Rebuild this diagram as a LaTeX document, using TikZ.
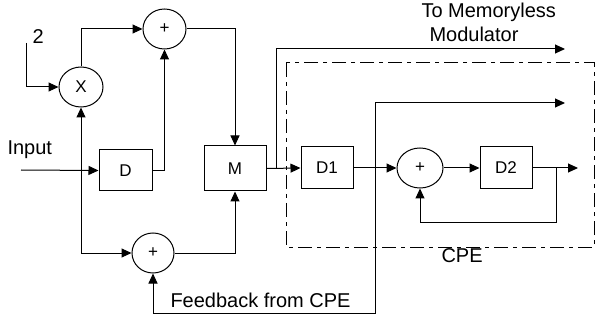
\documentclass[tikz,border=0pt]{standalone}
\usepackage{fontspec}
\setmainfont{Liberation Sans}
\usetikzlibrary{positioning,arrows.meta,shapes.geometric}
\tikzset{
    blockbox/.style={draw,rectangle,inner sep=0pt,align=center,
        minimum width=52pt,minimum height=42pt,font=\fontsize{17}{20}\selectfont},
    sumnode/.style={draw,ellipse,inner sep=0pt,minimum width=43pt,
        minimum height=40pt,font=\fontsize{17}{20}\selectfont},
    arrow/.style={-{Triangle[length=10pt,width=9pt]}},
    dblarrow/.style={{Triangle[length=10pt,width=9pt]}-{Triangle[length=10pt,width=9pt]}},
    cpeframe/.style={draw,dash pattern=on 14pt off 5pt on 4pt off 5pt},
    lbl/.style={inner sep=0pt,font=\fontsize{20}{24}\selectfont}
}
\begin{document}
\begin{tikzpicture}[x=1pt,y=-1pt,line width=1pt]
        \useasboundingbox (0,0) rectangle (596,320);
        % CPE frame
        \draw[cpeframe] (286,63) rectangle (594,247);
        \node[lbl,anchor=base west] (cpelbl) at (441,262) {CPE};
        % blocks
        \node[sumnode,minimum width=44pt] (mult) at (81,87) {X};
        \node[sumnode] (sumtop) at (164.5,29) {+};
        \node[sumnode,minimum width=42pt] (sumbot) at (153,253) {+};
        \node[blockbox,minimum width=53pt,minimum height=41pt] (delay) at (125.5,170.5) {D};
        \node[blockbox,minimum width=62pt,minimum height=45pt] (mapper) at (235,168.5) {M};
        \node[blockbox] (done) at (327,168) {D1};
        \node[sumnode,minimum width=46pt] (sumcpe) at (420,168) {+};
        \node[blockbox] (dtwo) at (506,168) {D2};
        % labels
        \node[lbl,anchor=base west] (twolbl) at (32,44) {2};
        \node[lbl,anchor=base west] (inplbl) at (7,155) {Input};
        \node[lbl,anchor=north west,align=left] (modlbl) at (421,3) {To Memoryless\\\hspace*{8pt}Modulator};
        \node[lbl,anchor=base west] (fblbl) at (170,307) {Feedback from CPE};
        % free ends
        \coordinate (two) at (26,43);
        \coordinate (inp) at (21,170);
        \coordinate (split) at (mult.south |- inp);
        \coordinate (tap) at (276,168);
        \coordinate (modout) at (565,49);
        \coordinate (cpeout) at (578,168);
        \coordinate (fbtap) at (556,168);
        \coordinate (loopc) at (556,222);
        \coordinate (fbout) at (565,103);
        \coordinate (fbdown) at (375,313);
        % connectors
        \draw[arrow] (two) |- (mult.west);
        \draw[arrow] (mult.north) |- (sumtop.west);
        \draw[arrow] (inp) -- (delay.west);
        \draw[arrow] (split) -- (mult.south);
        \draw[arrow] (split) |- (sumbot.west);
        \draw[arrow] (delay.east) -| (sumtop.south);
        \draw[arrow] (sumtop.east) -| (mapper.north);
        \draw[arrow] (sumbot.east) -| (mapper.south);
        \draw[arrow] (mapper.east) -- (done.west);
        \draw[arrow] (tap) |- (modout);
        \draw[arrow] (done.east) -- (sumcpe.west);
        \draw[arrow] (sumcpe.east) -- (dtwo.west);
        \draw[arrow] (dtwo.east) -- (cpeout);
        \draw[arrow] (fbtap) -- (loopc) -| (sumcpe.south);
        \draw[dblarrow] (fbout) -| (fbdown) -| (sumbot.south);
    \end{tikzpicture}
\end{document}
